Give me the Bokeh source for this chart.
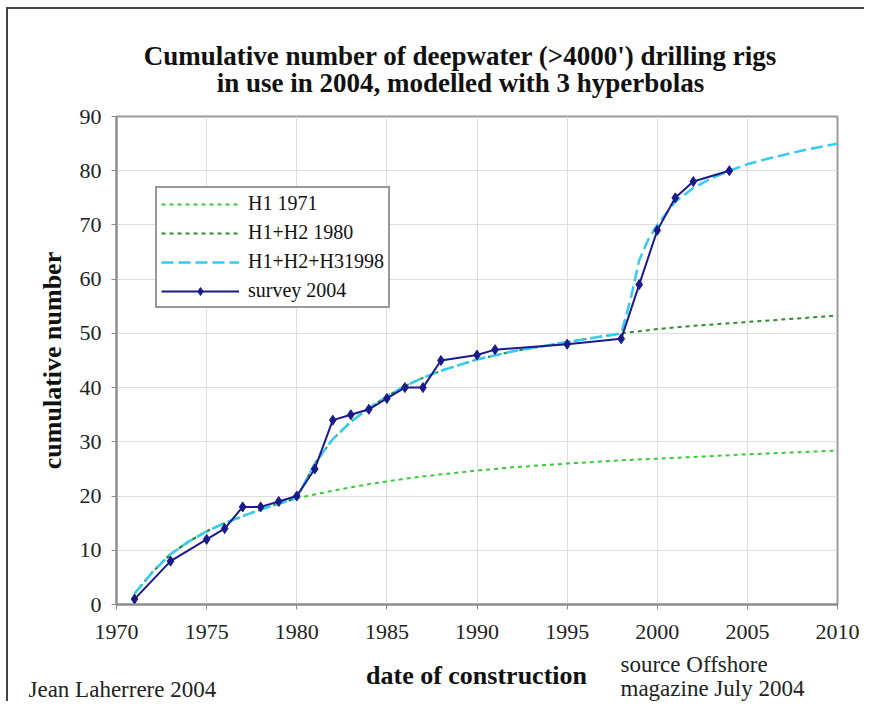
from bokeh.plotting import figure
from bokeh.models import Range1d, Label, Legend, LegendItem, FixedTicker
from bokeh.layouts import column
from bokeh.embed import file_html
from bokeh.resources import INLINE

# ---- data ----
survey_years = [1971, 1973, 1975, 1976, 1977, 1978, 1979, 1980, 1981, 1982, 1983, 1984,
                1985, 1986, 1987, 1988, 1990, 1991, 1995, 1998, 1999, 2000, 2001, 2002, 2004]
survey_values = [1, 8, 12, 14, 18, 18, 19, 20, 25, 34, 35, 36,
                 38, 40, 40, 45, 46, 47, 48, 49, 59, 69, 75, 78, 80]

h1_years = [1971, 1972, 1973, 1974, 1975, 1976, 1977, 1978, 1979, 1980, 1982, 1984,
            1986, 1988, 1990, 1992, 1995, 1998, 2000, 2002, 2005, 2008, 2010]
h1_values = [2.0, 6.0, 9.3, 11.6, 13.5, 15.0, 16.3, 17.5, 18.6, 19.6, 21.0, 22.2,
             23.2, 24.0, 24.7, 25.3, 26.0, 26.6, 26.9, 27.2, 27.7, 28.1, 28.4]

h12_years = [1971, 1972, 1973, 1974, 1975, 1976, 1977, 1978, 1979, 1980, 1981, 1982,
             1983, 1984, 1985, 1986, 1987, 1988, 1990, 1992, 1995, 1998, 2000, 2002,
             2005, 2008, 2010]
h12_values = [2.0, 6.0, 9.3, 11.6, 13.5, 15.0, 16.3, 17.5, 18.6, 19.6, 26.0, 30.5,
              33.7, 36.2, 38.4, 40.3, 41.8, 43.1, 45.2, 46.7, 48.4, 50.0, 50.8, 51.4,
              52.1, 52.8, 53.3]

h123_years = [1971, 1972, 1973, 1974, 1975, 1976, 1977, 1978, 1979, 1980, 1981, 1982,
              1983, 1984, 1985, 1986, 1987, 1988, 1990, 1992, 1995, 1998, 1998.5, 1999,
              1999.5, 2000, 2001, 2002, 2003, 2004, 2005, 2006, 2007, 2008, 2010]
h123_values = [2.0, 6.0, 9.3, 11.6, 13.5, 15.0, 16.3, 17.5, 18.6, 19.6, 26.0, 30.5,
               33.7, 36.2, 38.4, 40.3, 41.8, 43.1, 45.2, 46.7, 48.4, 50.0, 56.0, 63.5,
               67.3, 70.0, 74.3, 76.8, 78.6, 80.0, 81.2, 82.1, 82.9, 83.7, 85.0]

x_ticks = [1970, 1975, 1980, 1985, 1990, 1995, 2000, 2005, 2010]
y_ticks = [0, 10, 20, 30, 40, 50, 60, 70, 80, 90]

title_lines = ["Cumulative number of deepwater (>4000') drilling rigs",
               "in use in 2004, modelled with 3 hyperbolas"]
x_label = "date of construction"
y_label = "cumulative number"
credit_text = "Jean Laherrere 2004"
source_lines = ["source Offshore", "magazine July 2004"]

SERIF = "Liberation Serif"
W = 856
TOP_H, MAIN_H, BOT_H = 93, 548, 51


def text_strip(height):
    """A figure without axes whose frame is the whole canvas, in pixel units."""
    f = figure(width=W, height=height, output_backend="svg", toolbar_location=None,
               x_range=Range1d(0, W), y_range=Range1d(0, height),
               min_border=0, min_border_left=0, min_border_right=0,
               min_border_top=0, min_border_bottom=0)
    f.frame_align = False
    f.axis.visible = False
    f.grid.visible = False
    f.outline_line_color = None
    f.background_fill_color = "white"
    f.border_fill_color = "white"
    return f


# ---- title strip ----
top = text_strip(TOP_H)
for txt, yy in zip(title_lines, [47, 20]):
    top.add_layout(Label(x=452, y=yy, text=txt, text_align="center",
                         text_baseline="middle", text_font=SERIF,
                         text_font_style="bold", text_font_size="27px",
                         text_color="#111111"))

# ---- main chart ----
p = figure(width=W, height=MAIN_H, output_backend="svg", toolbar_location=None,
           x_range=Range1d(1970, 2010), y_range=Range1d(0, 90),
           min_border_left=108, min_border_right=27, min_border_top=14,
           min_border_bottom=46)
p.frame_align = False
p.background_fill_color = "white"
p.border_fill_color = "white"
p.outline_line_color = "#9a9a9a"
p.outline_line_width = 2

p.xgrid.grid_line_color = "#dddddd"
p.ygrid.grid_line_color = "#dddddd"
p.xgrid.ticker = FixedTicker(ticks=x_ticks)
p.ygrid.ticker = FixedTicker(ticks=y_ticks)

p.xaxis.ticker = FixedTicker(ticks=x_ticks)
p.yaxis.ticker = FixedTicker(ticks=y_ticks)
p.axis.axis_line_color = "#8a8a8a"
p.axis.axis_line_width = 2
p.axis.major_tick_line_color = "#8a8a8a"
p.axis.major_tick_in = 0
p.axis.major_tick_out = 5
p.axis.minor_tick_line_color = None
p.axis.major_label_text_font = SERIF
p.axis.major_label_text_font_size = "22px"
p.axis.major_label_text_color = "#222222"
p.yaxis.axis_label = y_label
p.yaxis.axis_label_text_font = SERIF
p.yaxis.axis_label_text_font_style = "bold"
p.yaxis.axis_label_text_font_size = "26px"
p.yaxis.axis_label_text_color = "#111111"
p.xaxis.major_label_standoff = 15
p.yaxis.major_label_standoff = 10
p.yaxis.axis_label_standoff = 10

r1 = p.line(h1_years, h1_values, line_color="#33cc33", line_width=2, line_dash="4 4")
r2 = p.line(h12_years, h12_values, line_color="#2e8b2e", line_width=2, line_dash="4 4")
r3 = p.line(h123_years, h123_values, line_color="#33ccf5", line_width=2.5, line_dash="12 5")
r4 = p.line(survey_years, survey_values, line_color="#1a1a8c", line_width=2)
r4m = p.scatter(survey_years, survey_values, marker="diamond", size=10,
                fill_color="#1a1a8c", line_color="#1a1a8c")

legend = Legend(items=[
    LegendItem(label="H1 1971", renderers=[r1]),
    LegendItem(label="H1+H2 1980", renderers=[r2]),
    LegendItem(label="H1+H2+H31998", renderers=[r3]),
    LegendItem(label="survey 2004", renderers=[r4, r4m]),
], location=(39, 296))
legend.label_text_font = SERIF
legend.label_text_font_size = "20px"
legend.label_text_color = "#111111"
legend.glyph_width = 78
legend.glyph_height = 20
legend.label_height = 21
legend.label_standoff = 9
legend.spacing = 6
legend.padding = 4
legend.margin = 0
legend.border_line_color = "#333333"
legend.border_line_width = 2
legend.background_fill_alpha = 1
p.add_layout(legend, "center")

# ---- bottom strip ----
bot = text_strip(BOT_H)
bot.add_layout(Label(x=468, y=26, text=x_label, text_align="center",
                     text_baseline="middle", text_font=SERIF, text_font_style="bold",
                     text_font_size="26px", text_color="#111111"))
bot.add_layout(Label(x=20, y=12, text=credit_text, text_align="left",
                     text_baseline="middle", text_font=SERIF, text_font_size="23px",
                     text_color="#222222"))
for txt, yy in zip(source_lines, [37, 13]):
    bot.add_layout(Label(x=612, y=yy, text=txt, text_align="left",
                         text_baseline="middle", text_font=SERIF,
                         text_font_size="23px", text_color="#222222"))

layout = column(top, p, bot, spacing=0)
layout.styles = {"margin-left": "6px", "margin-top": "7px",
                 "border-top": "2px solid #444", "border-left": "2px solid #444"}

open("out.html", "w").write(file_html(layout, INLINE))
